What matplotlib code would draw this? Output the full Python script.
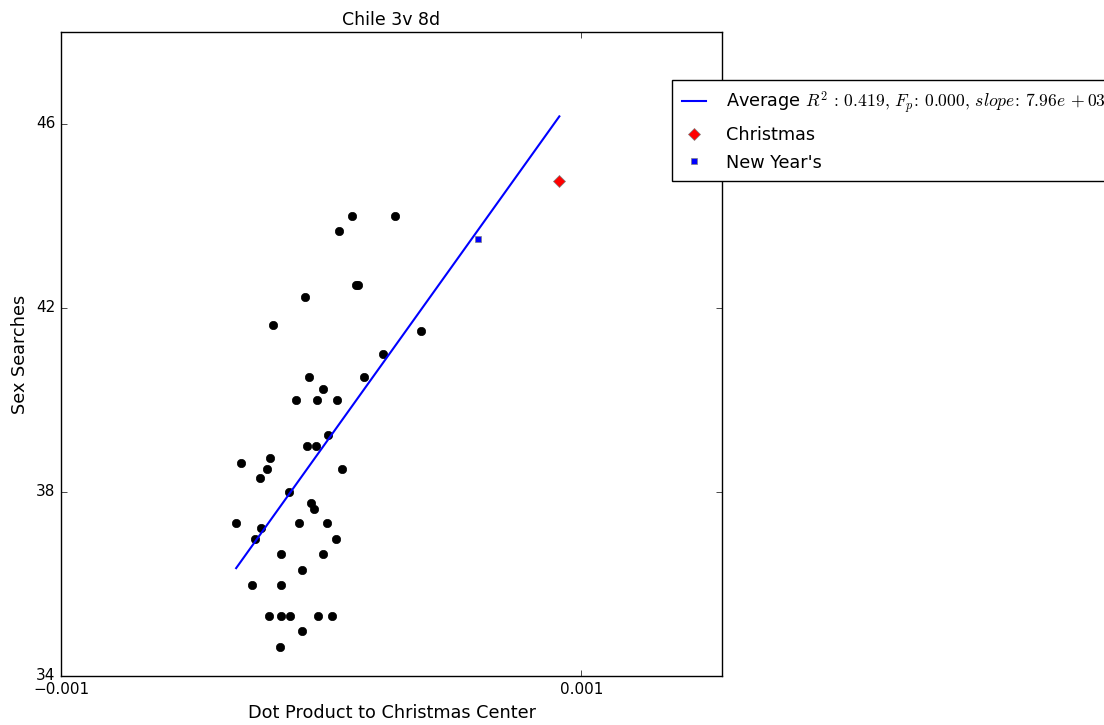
import matplotlib
matplotlib.use("Agg")
import matplotlib.pyplot as plt
import numpy as np

plt.style.use("classic")
plt.rcParams["figure.facecolor"] = "white"
plt.rcParams["savefig.facecolor"] = "white"

# Data (x in units of 1e-4)
x_pts = [1.19, 2.85, 0.69, 1.35, 1.42, -0.62, -1.85, 3.85, 2.38, -0.46, 1.65, 0.08,
         -0.96, -0.15, 0.62, 0.27, -0.54, -0.19, -3.08, -1.96, -2.08, 0.81, -2.35,
         -1.23, -0.38, -0.27, -3.27, -0.85, 0.23, -2.31, -2.54, 0.58, -1.54, 0.08,
         -0.73, -2.65, -1.54, -2.00, -1.54, -1.19, -0.12, 0.42, -0.73, -1.58]
y_pts = [44.0, 44.0, 43.67, 42.5, 42.5, 42.25, 41.64, 41.49, 41.0, 40.5, 40.5, 40.25,
         40.0, 40.0, 40.0, 39.25, 39.0, 39.0, 38.64, 38.75, 38.49, 38.49, 38.31,
         38.0, 37.77, 37.64, 37.33, 37.33, 37.33, 37.22, 36.98, 36.98, 36.66, 36.66,
         36.31, 35.98, 35.98, 35.31, 35.31, 35.31, 35.31, 35.31, 34.98, 34.63]
christmas = (9.15, 44.76)
new_years = (6.04, 43.49)

x = np.array(x_pts) * 1e-4
y = np.array(y_pts)
xa = np.concatenate([x, [christmas[0] * 1e-4, new_years[0] * 1e-4]])
ya = np.concatenate([y, [christmas[1], new_years[1]]])
slope, intercept = np.polyfit(xa, ya, 1)

fig = plt.figure(figsize=(11.04, 7.25), dpi=100)
ax = fig.add_axes([61/1104, 1-676/725, 661/1104, 644/725])

ax.plot(x, y, 'o', color='black', mec='black', ms=6, label='_nolegend_')
xl = np.array([xa.min(), xa.max()])
ax.plot(xl, slope * xl + intercept, '-', color='blue', lw=1.5,
        label=r'Average $R^2\,:\,0.419,\,F_p\!:\,0.000,\,slope\!:\,7.96e\,+03$')
ax.plot([christmas[0] * 1e-4], [christmas[1]], 'D', color='red', mec='gray', ms=6, label='Christmas')
ax.plot([new_years[0] * 1e-4], [new_years[1]], 's', color='blue', mec='gray', ms=5, label="New Year's")

ax.set_xlim(-0.001, 0.00154)
ax.set_ylim(34, 48)
ax.set_xticks([-0.001, 0.001])
ax.set_xticklabels(['\u22120.001', '0.001'])
ax.set_yticks([34, 38, 42, 46])
ax.tick_params(labelsize=11)
ax.set_title('Chile 3v 8d', fontsize=12.5)
ax.set_xlabel('Dot Product to Christmas Center', fontsize=12.7)
ax.set_ylabel('Sex Searches', fontsize=12.7)

ax.legend(loc='upper left', bbox_to_anchor=(611/661, 596/644), borderaxespad=0,
          numpoints=1, fontsize=12.7, handlelength=1.4, handletextpad=1.1,
          borderpad=0.55, labelspacing=0.55)

fig.savefig('out.png', dpi=100)
